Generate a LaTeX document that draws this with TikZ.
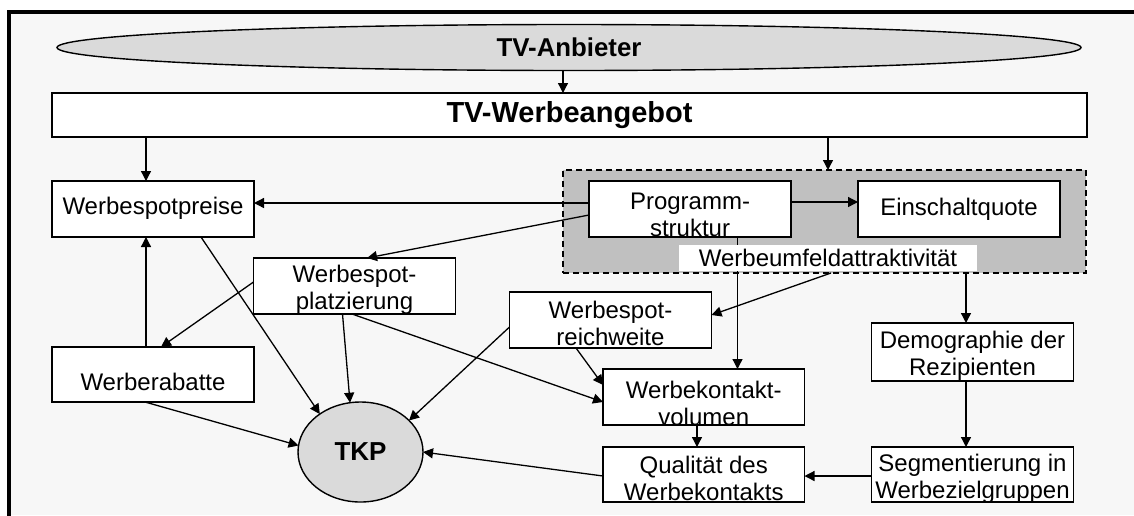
\documentclass[tikz,border=0pt]{standalone}
\usepackage{fontspec}
\setmainfont{Liberation Sans}
\usetikzlibrary{shapes.geometric,arrows.meta}
\definecolor{pagebg}{HTML}{F7F7F7}
\definecolor{oval}{HTML}{DADADA}
\definecolor{zone}{HTML}{C0C0C0}
\begin{document}
\begin{tikzpicture}[x=1pt,y=-1pt,
  every node/.style={inner sep=0pt, outer sep=0pt},
  txt/.style={font=\fontsize{24}{27}\selectfont, align=center},
  box/.style={draw, line width=1.4pt, fill=white, minimum width=202pt, minimum height=56pt},
  tbox/.style 2 args={box, path picture={\node[txt] at ([yshift=#1]path picture bounding box.center) {#2};}},
  arr/.style={line width=1.3pt, -{Triangle[length=10pt,width=10pt]}},
  conn/.style={line width=1.3pt},
  oval node/.style={ellipse, draw, line width=1.4pt, fill=oval},
  zonebox/.style={draw, dash pattern=on 6pt off 4pt, line width=1.4pt, fill=zone}
]
\useasboundingbox (0,0) rectangle (1134,515);

% frame
\fill[pagebg] (9,12) rectangle (1134,515);
\draw[line width=3.5pt, line join=miter] (9,520) -- (9,12) -- (1140,12);

% top level
\node[oval node, minimum width=1024pt, minimum height=46pt,
      font=\bfseries\fontsize{25.8}{30}\selectfont] (anb) at (569,47.5) {TV-Anbieter};
\node[box, minimum width=1035pt, minimum height=44pt,
      font=\bfseries\fontsize{29}{34}\selectfont] (angebot) at (569.5,115) {TV-Werbeangebot};

% shaded programme area
\node[zonebox, minimum width=523pt, minimum height=103pt] (feld) at (824.5,221.5) {};
\node[tbox={-6pt}{Programm-\\struktur}] (prog) at (690,209) {};
\node[tbox={0pt}{Einschaltquote}] (quote) at (959,209) {};

% boxes
\node[tbox={1pt}{Werbespotpreise}] (preise) at (153,209) {};
\node[tbox={-4pt}{Werbespot-\\platzierung}] (platz) at (354.5,286) {};
\node[tbox={-3.5pt}{Werbespot-\\reichweite}] (reich) at (610.5,320) {};
\node[tbox={-7pt}{Werberabatte}, minimum height=55pt] (rabatt) at (153,374.5) {};
\node[tbox={-3.5pt}{Demographie der\\Rezipienten}, minimum height=58pt] (demo) at (972.5,352) {};
\node[tbox={-6pt}{Werbekontakt-\\volumen}, minimum width=201.5pt] (volumen) at (703.75,397) {};
\node[tbox={-4pt}{Qualität des\\Werbekontakts}, minimum width=201.5pt, minimum height=55pt] (qual) at (703.75,474.5) {};
\node[tbox={-4pt}{Segmentierung in\\Werbezielgruppen}, minimum height=55pt] (segm) at (972.5,474.5) {};
\node[oval node, minimum width=125pt, minimum height=100pt,
      font=\bfseries\fontsize{26}{30}\selectfont] (tkp) at (360.5,452) {TKP};

% line from the programme structure down to the contact volume (runs behind the label)
\draw[arr] ([xshift=47.5pt]prog.south) -- ([xshift=47.5pt]prog.south |- volumen.north);
\node[txt, fill=white, minimum width=298pt, minimum height=26pt] (umfeld) at (828,258) {Werbeumfeldattraktivität};

% connectors
\draw[arr] ([xshift=-6pt]anb.south) -- ([xshift=-6pt]anb.south |- angebot.north);
\draw[arr] ([xshift=-7pt]preise.north |- angebot.south) -- ([xshift=-7pt]preise.north);
\draw[arr] (umfeld.north |- angebot.south) -- (umfeld.north |- feld.north);
\draw[arr] ([yshift=6pt]prog.west) -- ([yshift=6pt]preise.east);
\draw[arr] ([yshift=-6pt]prog.west) -- ([xshift=12.5pt]platz.north);
\draw[arr] ([yshift=7pt]prog.east) -- ([yshift=7pt]quote.west);
\draw[arr] ([xshift=3pt]umfeld.south |- feld.south) -- ([yshift=5pt]reich.east);
\draw[arr] ([xshift=-6.5pt]demo.north |- feld.south) -- ([xshift=-6.5pt]demo.north);
\draw[arr] ([yshift=4pt]platz.west) -- ([xshift=8pt]rabatt.north);
\draw[arr] ([xshift=-7pt]rabatt.north) -- ([xshift=-7pt]preise.south);
\draw[arr] ([xshift=48pt]preise.south) -- (tkp.137);
\draw[arr] ([xshift=-12pt]platz.south) -- (tkp.102);
\draw[arr] ([xshift=-2.5pt]platz.south) -- ([yshift=-5pt]volumen.west);
\draw[arr] ([yshift=-7pt]reich.west) -- (tkp.33);
\draw[arr] ([xshift=-34.5pt]reich.south) -- ([yshift=12pt]volumen.west);
\draw[arr] ([xshift=-8pt]rabatt.south) -- (tkp.174);
\draw[arr] ([yshift=-1.5pt]qual.west) -- (tkp.0);
\draw[arr] ([xshift=-6.75pt]volumen.south) -- ([xshift=-6.75pt]qual.north);
\draw[arr] ([yshift=-1.5pt]segm.west) -- ([yshift=-1.5pt]qual.east);
\draw[arr] ([xshift=-6.5pt]demo.south) -- ([xshift=-6.5pt]segm.north);
\end{tikzpicture}
\end{document}
